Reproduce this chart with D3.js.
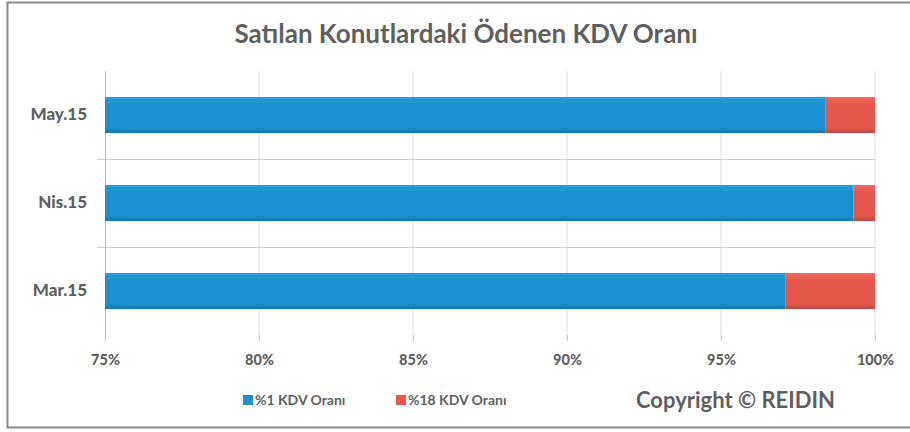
<!DOCTYPE html>
<html>
<head>
<meta charset="utf-8">
<script src="https://cdn.jsdelivr.net/npm/d3@7"></script>
<style>
  html, body { margin: 0; padding: 0; background: #fff; }
  svg { display: block; font-family: Lato, "Open Sans", sans-serif; }
</style>
</head>
<body>
<svg id="chart" width="910" height="432"></svg>
<script>
// Share of sold houses by VAT rate (percent)
const categories = ["May.15", "Nis.15", "Mar.15"];
const rate1 = [98.4, 99.3, 97.1];   // %1 KDV
const rate18 = [1.6, 0.7, 2.9];     // %18 KDV
const tickValues = [75, 80, 85, 90, 95, 100];
const seriesNames = ["%1 KDV Oranı", "%18 KDV Oranı"];
const seriesKeys = ["r1", "r18"];

const rows = categories.map((c, i) => ({ cat: c, r1: rate1[i], r18: rate18[i] }));

const svg = d3.select("#chart");
const W = 910, H = 432;
const margin = { left: 105, right: 35, top: 71, bottom: 97 };
const plotW = W - margin.left - margin.right;
const plotH = H - margin.top - margin.bottom;

const textColor = "#5f5f5f";
const colors = { r1: "#1b91d3", r18: "#e6584d" };

// gradients to give the bars a soft shaded edge
const defs = svg.append("defs");
[["r1", "#2a9edd", "#1b91d3", "#1674ad"], ["r18", "#ee6a5f", "#e5574c", "#b9463d"]].forEach(([k, a, b, c]) => {
  const g = defs.append("linearGradient").attr("id", "g-" + k).attr("x1", 0).attr("y1", 0).attr("x2", 0).attr("y2", 1);
  g.append("stop").attr("offset", "0%").attr("stop-color", a);
  g.append("stop").attr("offset", "20%").attr("stop-color", b);
  g.append("stop").attr("offset", "85%").attr("stop-color", b);
  g.append("stop").attr("offset", "100%").attr("stop-color", c);
});

// outer frame
svg.append("rect")
  .attr("x", 7.5).attr("y", 2.5)
  .attr("width", W).attr("height", 425)
  .attr("fill", "none").attr("stroke", "#8a8a8a").attr("stroke-width", 2);

const x = d3.scaleLinear().domain([75, 100]).range([margin.left, margin.left + plotW]);
const y = d3.scaleBand().domain(categories).range([margin.top, margin.top + plotH]).paddingInner(0.59).paddingOuter(0.295);

// vertical gridlines
svg.append("g")
  .selectAll("line")
  .data(tickValues.slice(1))
  .join("line")
  .attr("x1", d => x(d)).attr("x2", d => x(d))
  .attr("y1", margin.top).attr("y2", margin.top + plotH + 5)
  .attr("stroke", "#e1e1e1").attr("stroke-width", 1);

// separators between categories
const step = y.step();
svg.append("g")
  .selectAll("line")
  .data(categories.slice(1))
  .join("line")
  .attr("x1", margin.left - 8).attr("x2", margin.left + plotW)
  .attr("y1", d => y(d) - y.paddingInner() * step / 2 + 0.5)
  .attr("y2", d => y(d) - y.paddingInner() * step / 2 + 0.5)
  .attr("stroke", "#cfcfcf").attr("stroke-width", 1);

// value axis ticks and labels
const xAxis = d3.axisBottom(x)
  .tickValues(tickValues)
  .tickSize(6)
  .tickPadding(14)
  .tickFormat(d => d + "%");
const gx = svg.append("g")
  .attr("transform", `translate(0,${margin.top + plotH})`)
  .call(xAxis);
gx.select(".domain").remove();
gx.selectAll(".tick line").attr("stroke", "#c8c8c8");
gx.selectAll(".tick text")
  .attr("fill", textColor)
  .style("font-family", "Lato, sans-serif")
  .style("font-weight", "900")
  .style("font-size", "14.5px");

// category axis
svg.append("line")
  .attr("x1", margin.left + 0.5).attr("x2", margin.left + 0.5)
  .attr("y1", margin.top).attr("y2", margin.top + plotH + 5)
  .attr("stroke", "#bdbdbd");
const yAxis = d3.axisLeft(y).tickSize(0).tickPadding(18);
const gy = svg.append("g").attr("transform", `translate(${margin.left},0)`).call(yAxis);
gy.select(".domain").remove();
gy.selectAll(".tick text")
  .attr("fill", textColor)
  .style("font-family", "Lato, sans-serif")
  .style("font-weight", "900")
  .style("font-size", "17px");

// stacked bars
const stack = d3.stack().keys(seriesKeys);
const layers = stack(rows);
svg.append("g")
  .selectAll("g")
  .data(layers)
  .join("g")
  .attr("fill", d => `url(#g-${d.key})`)
  .selectAll("rect")
  .data(d => d)
  .join("rect")
  .attr("x", d => x(Math.max(d[0], 75)))
  .attr("width", d => x(d[1]) - x(Math.max(d[0], 75)))
  .attr("y", d => y(d.data.cat))
  .attr("height", y.bandwidth());

// title
svg.append("text")
  .attr("x", 466).attr("y", 43)
  .attr("text-anchor", "middle")
  .attr("fill", textColor)
  .style("font-weight", "bold")
  .style("font-size", "26px")
  .text("Satılan Konutlardaki Ödenen KDV Oranı");

// legend
const legendX = [243, 396];
const legend = svg.append("g")
  .selectAll("g")
  .data(seriesKeys)
  .join("g")
  .attr("transform", (d, i) => `translate(${legendX[i]},400)`);
legend.append("rect")
  .attr("x", 0).attr("y", -5).attr("width", 10).attr("height", 10)
  .attr("fill", d => colors[d]);
legend.append("text")
  .attr("x", 12).attr("y", 5)
  .attr("fill", textColor)
  .style("font-weight", "bold")
  .style("font-size", "14px")
  .text((d, i) => seriesNames[i]);

svg.append("text")
  .attr("x", 636).attr("y", 408)
  .attr("fill", textColor)
  .style("font-weight", "bold")
  .style("font-size", "22px")
  .text("Copyright © REIDIN");
</script>
</body>
</html>
